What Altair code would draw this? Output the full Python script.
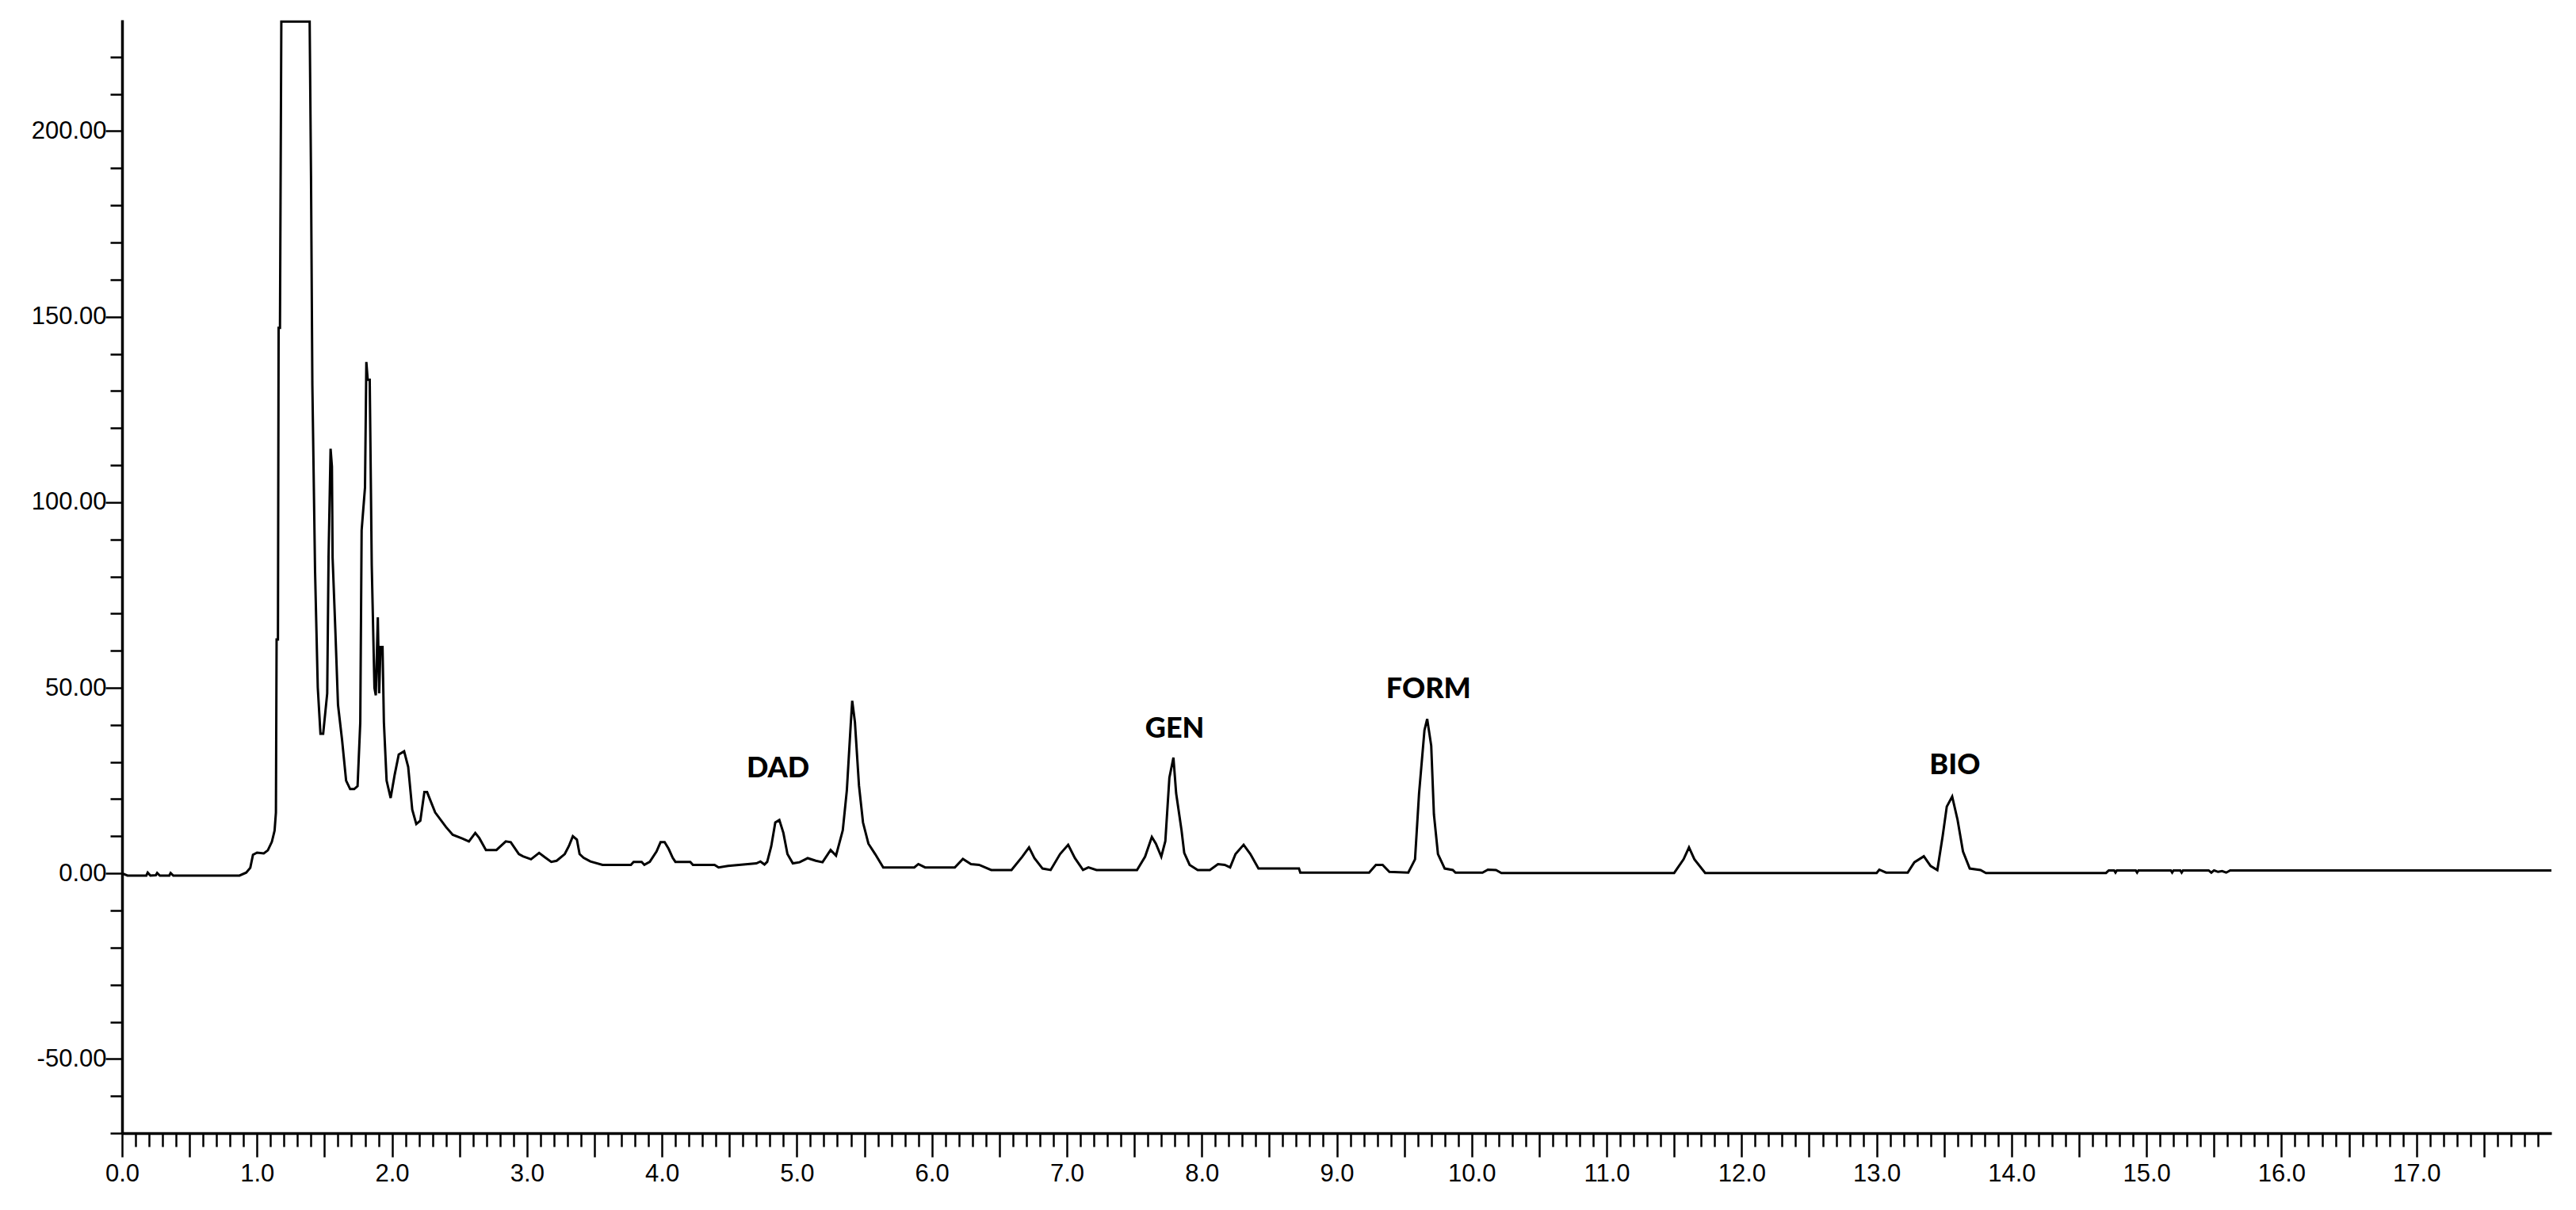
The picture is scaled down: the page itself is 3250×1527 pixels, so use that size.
import altair as alt
import pandas as pd

# Retention time (min) and detector signal
time_min = [
    0.00, 0.04, 0.18, 0.19, 0.21, 0.25, 0.26, 0.28, 0.35, 0.36, 0.38, 0.87,
    0.92, 0.95, 0.97, 1.00, 1.05, 1.08, 1.11, 1.13, 1.14, 1.145, 1.155, 1.16,
    1.17, 1.18, 1.39, 1.40, 1.41, 1.43, 1.45, 1.47, 1.49, 1.52, 1.53, 1.545,
    1.555, 1.56, 1.58, 1.60, 1.63, 1.66, 1.69, 1.72, 1.745, 1.765, 1.775, 1.80,
    1.81, 1.82, 1.835, 1.85, 1.87, 1.88, 1.895, 1.905, 1.915, 1.93, 1.94, 1.96,
    1.99, 2.02, 2.05, 2.09, 2.12, 2.15, 2.18, 2.21, 2.24, 2.26, 2.32, 2.40,
    2.45, 2.52, 2.57, 2.617, 2.647, 2.696, 2.774, 2.843, 2.88, 2.94, 2.97, 3.03,
    3.09, 3.13, 3.18, 3.22, 3.28, 3.31, 3.34, 3.37, 3.39, 3.42, 3.47, 3.56,
    3.77, 3.79, 3.85, 3.87, 3.91, 3.96, 3.99, 4.02, 4.05, 4.08, 4.10, 4.21,
    4.23, 4.39, 4.42, 4.49, 4.70, 4.73, 4.76, 4.78, 4.81, 4.84, 4.87, 4.90,
    4.93, 4.97, 5.02, 5.08, 5.14, 5.19, 5.25, 5.29, 5.34, 5.37, 5.40, 5.41,
    5.43, 5.46, 5.49, 5.53, 5.58, 5.64, 5.87, 5.90, 5.95, 6.17, 6.23, 6.29,
    6.35, 6.44, 6.59, 6.67, 6.72, 6.76, 6.82, 6.88, 6.95, 7.01, 7.06, 7.12,
    7.16, 7.22, 7.52, 7.58, 7.63, 7.66, 7.70, 7.73, 7.76, 7.79, 7.81, 7.85,
    7.87, 7.91, 7.97, 8.06, 8.12, 8.17, 8.21, 8.25, 8.31, 8.36, 8.42, 8.72,
    8.73, 9.24, 9.29, 9.34, 9.39, 9.53, 9.58, 9.61, 9.65, 9.67, 9.70, 9.72,
    9.75, 9.80, 9.86, 9.88, 10.08, 10.12, 10.18, 10.22, 11.50, 11.57, 11.61, 11.65,
    11.73, 13.00, 13.02, 13.07, 13.23, 13.28, 13.35, 13.40, 13.45, 13.49, 13.52, 13.56,
    13.60, 13.64, 13.69, 13.77, 13.81, 14.70, 14.72, 14.76, 14.77, 14.78, 14.92, 14.93,
    14.94, 15.18, 15.19, 15.20, 15.25, 15.26, 15.27, 15.46, 15.48, 15.50, 15.53, 15.56,
    15.59, 15.62, 18.00,
]
signal = [
    0.0, -0.6, -0.6, 0.2, -0.6, -0.5, 0.1, -0.6, -0.6, 0.1, -0.6, -0.6,
    0.2, 1.5, 5.0, 5.6, 5.4, 6.2, 8.5, 11.5, 16.4, 63.0, 63.0, 147.0,
    147.0, 229.5, 229.5, 188.0, 131.5, 81.4, 50.1, 37.6, 37.6, 48.5, 85.3, 114.4,
    109.6, 85.0, 65.8, 45.4, 36.0, 25.0, 22.7, 22.7, 23.5, 40.7, 92.4, 104.0,
    137.8, 133.0, 133.0, 83.0, 50.0, 48.0, 69.0, 48.5, 61.0, 61.0, 40.7, 25.0,
    20.3, 26.6, 32.0, 32.9, 28.7, 17.2, 13.3, 14.2, 21.9, 21.9, 16.4, 12.5,
    10.4, 9.4, 8.6, 10.9, 9.5, 6.3, 6.3, 8.6, 8.4, 5.2, 4.6, 3.8,
    5.5, 4.4, 3.1, 3.4, 5.2, 7.3, 10.0, 9.1, 5.2, 4.2, 3.2, 2.3,
    2.3, 3.1, 3.1, 2.3, 3.1, 5.9, 8.4, 8.4, 6.6, 4.2, 3.1, 3.1,
    2.3, 2.3, 1.6, 2.0, 2.7, 3.2, 2.4, 3.1, 7.3, 13.7, 14.4, 10.9,
    5.2, 2.7, 3.0, 4.1, 3.4, 3.0, 6.3, 4.8, 11.6, 22.3, 40.8, 46.5,
    40.8, 23.7, 13.7, 8.0, 5.2, 1.6, 1.6, 2.5, 1.6, 1.6, 3.9, 2.5,
    2.3, 0.9, 0.9, 4.5, 7.0, 4.1, 1.3, 0.9, 5.2, 7.7, 4.1, 0.9,
    1.6, 0.9, 0.9, 4.5, 9.8, 8.0, 4.5, 8.7, 25.8, 31.2, 21.6, 11.6,
    5.5, 2.3, 0.9, 0.9, 2.5, 2.3, 1.6, 5.2, 7.7, 5.2, 1.3, 1.3,
    0.2, 0.2, 2.3, 2.3, 0.4, 0.2, 3.8, 21.6, 38.6, 41.6, 34.4, 15.9,
    5.2, 1.3, 0.9, 0.2, 0.2, 1.0, 0.9, 0.1, 0.1, 3.8, 7.0, 3.8,
    0.1, 0.1, 1.0, 0.2, 0.2, 3.0, 4.6, 2.0, 0.9, 10.2, 18.0, 20.7,
    14.4, 5.9, 1.3, 0.9, 0.1, 0.1, 0.8, 0.8, 0.2, 0.8, 0.8, 0.2,
    0.8, 0.8, 0.2, 0.8, 0.8, 0.2, 0.8, 0.8, 0.2, 0.8, 0.4, 0.6,
    0.2, 0.8, 0.8,
]

# Peak annotations
peak_names = ["DAD", "GEN", "FORM", "BIO"]
peak_label_x = [4.86, 7.80, 9.68, 13.58]
peak_label_y = [28.2, 38.9, 49.5, 29.0]

# Axis ticks
y_major_ticks = [-50, 0, 50, 100, 150, 200]
y_minor_ticks = [v for v in range(-70, 230, 10) if v % 50 != 0]
x_major_ticks = [i * 0.5 for i in range(36)]
x_minor_ticks = [round(i * 0.1, 1) for i in range(180) if i % 5 != 0]

trace = pd.DataFrame({"t": time_min, "v": signal})
labels = pd.DataFrame({"name": peak_names, "t": peak_label_x, "v": peak_label_y})

xscale = alt.Scale(domain=[0, 18], nice=False, zero=False)
yscale = alt.Scale(domain=[-70, 230], nice=False, zero=False)

label_font = "Liberation Sans"

x_major_axis = alt.Axis(
    values=x_major_ticks, orient="bottom", title="", grid=False,
    domain=True, domainColor="black", domainWidth=3.5,
    ticks=True, tickColor="black", tickWidth=2.5, tickSize=30,
    labelExpr="datum.value % 1 === 0 ? format(datum.value, '.1f') : ''",
    labelFont=label_font, labelFontSize=31, labelColor="black",
    labelPadding=6, labelFlush=False, labelOverlap=False,
)
y_major_axis = alt.Axis(
    values=y_major_ticks, orient="left", title="", grid=False,
    domain=True, domainColor="black", domainWidth=3.5,
    ticks=True, tickColor="black", tickWidth=2.5, tickSize=21,
    labelExpr="datum.value < 0 ? '-' + format(-datum.value, '.2f') : format(datum.value, '.2f')",
    labelFont=label_font, labelFontSize=31, labelColor="black",
    labelPadding=-1, labelFlush=False, labelOverlap=False,
)
x_minor_axis = alt.Axis(
    values=x_minor_ticks, orient="bottom", title="", grid=False,
    domain=False, labels=False, ticks=True, tickColor="black",
    tickWidth=2.5, tickSize=17,
)
y_minor_axis = alt.Axis(
    values=y_minor_ticks, orient="left", title="", grid=False,
    domain=False, labels=False, ticks=True, tickColor="black",
    tickWidth=2.5, tickSize=15,
)

line = alt.Chart(trace).mark_line(color="black", strokeWidth=3, clip=True).encode(
    x=alt.X("t:Q", scale=xscale, axis=x_major_axis),
    y=alt.Y("v:Q", scale=yscale, axis=y_major_axis),
)

minor = alt.Chart(trace).mark_line(opacity=0).encode(
    x=alt.X("t:Q", scale=xscale, axis=x_minor_axis),
    y=alt.Y("v:Q", scale=yscale, axis=y_minor_axis),
)

text = alt.Chart(labels).mark_text(
    font="Lato", fontWeight=900, fontSize=36, color="black",
    align="center", baseline="middle",
).encode(
    x=alt.X("t:Q", scale=xscale, axis=None),
    y=alt.Y("v:Q", scale=yscale, axis=None),
    text="name:N",
)

chart = alt.layer(line, minor, text).resolve_axis(
    x="independent", y="independent"
).properties(
    width=3065,
    height=1405,
    autosize=alt.AutoSizeParams(type="none"),
    padding={"left": 146, "top": 17, "right": 20, "bottom": 80},
    background="white",
).configure_view(strokeWidth=0)

chart.save("out.html", embed_options={"renderer": "svg", "actions": False})
